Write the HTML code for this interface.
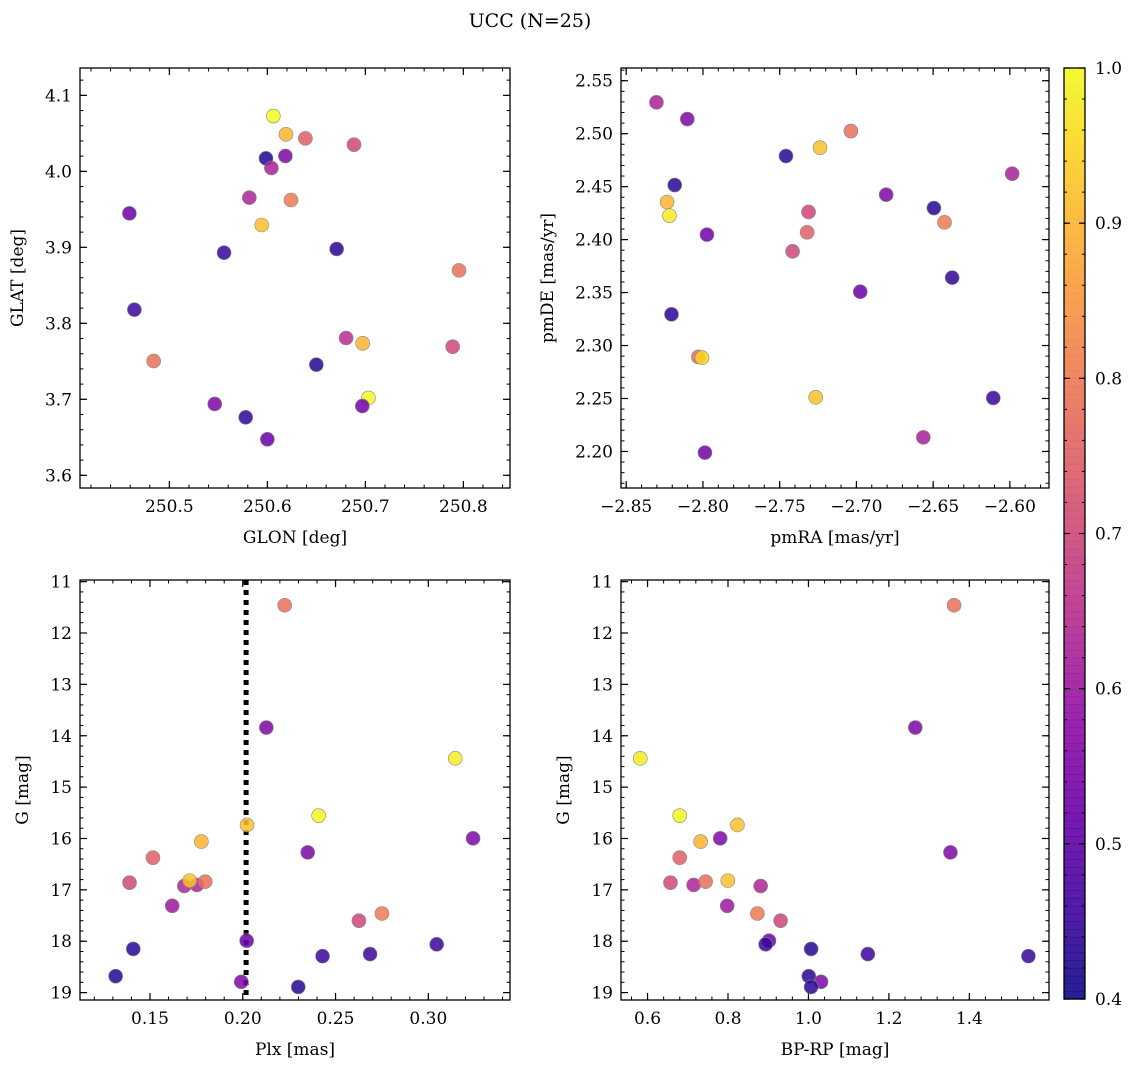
<!DOCTYPE html>
<html><head><meta charset="utf-8">
<style>
html,body{margin:0;padding:0;background:#fff;}
svg text{font-family:"DejaVu Serif","Liberation Serif",serif;fill:#000;}
</style></head>
<body>
<svg id="fig" width="1136" height="1067" viewBox="0 0 1136 1067" xmlns="http://www.w3.org/2000/svg">
<rect width="1136" height="1067" fill="#fff"/>
<text x="530" y="27" font-size="19" text-anchor="middle">UCC (N=25)</text>
</svg>
<script>
// Panel 1: GLON vs GLAT
const p1x=[250.6061,250.6190,250.6388,250.5986,250.6184,250.6041,250.6884,250.5816,250.6241,250.5942,250.4592,250.5558,250.6707,250.7956,250.4643,250.6803,250.6973,250.7891,250.4840,250.6500,250.7031,250.5463,250.6969,250.5779,250.6000];
const p1y=[4.0728,4.0487,4.0434,4.0171,4.0202,4.0044,4.0351,3.9654,3.9623,3.9294,3.9447,3.8930,3.8978,3.8697,3.8180,3.7807,3.7737,3.7693,3.7504,3.7456,3.7018,3.6939,3.6912,3.6763,3.6474];
const p1c=[1.0,0.9,0.75,0.42,0.55,0.62,0.7,0.63,0.8,0.92,0.52,0.45,0.43,0.78,0.45,0.65,0.9,0.7,0.78,0.43,1.0,0.55,0.53,0.44,0.52];
// Panel 2: pmRA vs pmDE
const p2x=[-2.8303,-2.8102,-2.7036,-2.7237,-2.7459,-2.8184,-2.5985,-2.6806,-2.8234,-2.6495,-2.8218,-2.7312,-2.6426,-2.7321,-2.7974,-2.7416,-2.6376,-2.6975,-2.8205,-2.8030,-2.8006,-2.6108,-2.7265,-2.6564,-2.7987];
const p2y=[2.5296,2.5138,2.5025,2.4868,2.4789,2.4515,2.4622,2.4424,2.4355,2.4298,2.4226,2.4261,2.4163,2.4069,2.4047,2.3889,2.3641,2.3508,2.3295,2.2892,2.2885,2.2505,2.2511,2.2133,2.1989];
const p2c=[0.62,0.55,0.78,0.92,0.43,0.43,0.62,0.55,0.9,0.43,0.98,0.7,0.8,0.75,0.53,0.7,0.44,0.52,0.43,0.77,0.95,0.45,0.92,0.62,0.53];
// Panel 3: Plx vs G
const p3x=[0.2226,0.2127,0.3145,0.2409,0.2023,0.3241,0.1777,0.2350,0.1516,0.1390,0.1685,0.1753,0.1798,0.1714,0.1620,0.2750,0.2626,0.2021,0.3045,0.1410,0.2686,0.2430,0.1315,0.1992,0.2299];
const p3y=[11.46,13.84,14.44,15.556,15.737,15.997,16.06,16.27,16.373,16.86,16.925,16.905,16.84,16.82,17.31,17.46,17.60,17.99,18.06,18.15,18.25,18.29,18.68,18.79,18.89];
const p3c=[0.78,0.55,0.98,1.0,0.92,0.55,0.9,0.55,0.75,0.7,0.63,0.63,0.78,0.92,0.6,0.8,0.7,0.52,0.45,0.43,0.45,0.45,0.43,0.55,0.43];
const plxLine=0.2018;
// Panel 4: BP-RP vs G
const p4x=[1.362,1.2656,0.5819,0.680,0.8235,0.732,0.7806,1.353,0.680,0.657,0.7146,0.7443,0.7996,0.8812,0.7979,0.873,0.9307,0.9019,0.8936,1.0066,1.1476,1.5468,1.0008,1.0313,1.0066];
const p4y=[11.46,13.84,14.44,15.556,15.737,16.06,15.997,16.27,16.373,16.86,16.905,16.84,16.82,16.925,17.31,17.46,17.60,17.99,18.06,18.15,18.25,18.29,18.68,18.79,18.89];
const p4c=[0.78,0.55,0.98,1.0,0.92,0.9,0.55,0.55,0.75,0.7,0.63,0.78,0.92,0.63,0.6,0.8,0.7,0.52,0.45,0.43,0.45,0.45,0.43,0.55,0.43];
// Tick labels
const t1x=[250.5,250.6,250.7,250.8], t1y=[3.6,3.7,3.8,3.9,4.0,4.1];
const t2x=[-2.85,-2.80,-2.75,-2.70,-2.65,-2.60], t2y=[2.20,2.25,2.30,2.35,2.40,2.45,2.50,2.55];
const t3x=[0.15,0.20,0.25,0.30], tG=[11,12,13,14,15,16,17,18,19];
const t4x=[0.6,0.8,1.0,1.2,1.4];
const tC=[0.4,0.5,0.6,0.7,0.8,0.9,1.0];
const cMin=0.4,cMax=1.0;

const NS="http://www.w3.org/2000/svg";
const svg=document.getElementById('fig');
const FS=17;
function mk(tag,attrs,parent){const e=document.createElementNS(NS,tag);for(const k in attrs)e.setAttribute(k,attrs[k]);(parent||svg).appendChild(e);return e;}
const stops=[[13,8,135],[65,4,157],[106,0,168],[143,13,164],[177,42,144],[204,71,120],[225,100,98],[242,132,75],[252,166,54],[252,206,37],[240,249,33]];
function plasma(t){t=Math.max(0,Math.min(1,t));const f=t*10,i=Math.min(9,Math.floor(f)),r=f-i;const a=stops[i],b=stops[i+1];return `rgb(${Math.round(a[0]+(b[0]-a[0])*r)},${Math.round(a[1]+(b[1]-a[1])*r)},${Math.round(a[2]+(b[2]-a[2])*r)})`;}
function cmap(v){return plasma((v-cMin)/(cMax-cMin));}
function fmt(v,d){return (v<0?'\u2212':'')+Math.abs(v).toFixed(d);}

function panel(o){
  const g=mk('g',{});
  
  
  const L=o.box[0],T=o.box[1],R=o.box[2],B=o.box[3];
  const sx=v=>L+(v-o.xr[0])/(o.xr[1]-o.xr[0])*(R-L);
  const sy=o.inv? (v=>T+(v-o.yr[0])/(o.yr[1]-o.yr[0])*(B-T)) : (v=>B-(v-o.yr[0])/(o.yr[1]-o.yr[0])*(B-T));
  for(let k=Math.ceil(o.xr[0]/o.xm-1e-9);k*o.xm<=o.xr[1]+1e-9;k++){const x=sx(k*o.xm);mk('line',{x1:x,x2:x,y1:B,y2:B-3.5,stroke:'#000','stroke-width':1},g);mk('line',{x1:x,x2:x,y1:T,y2:T+3.5,stroke:'#000','stroke-width':1},g);}
  const ylo=Math.min(o.yr[0],o.yr[1]),yhi=Math.max(o.yr[0],o.yr[1]);
  for(let k=Math.ceil(ylo/o.ym-1e-9);k*o.ym<=yhi+1e-9;k++){const y=sy(k*o.ym);mk('line',{x1:L,x2:L+3.5,y1:y,y2:y,stroke:'#000','stroke-width':1},g);mk('line',{x1:R,x2:R-3.5,y1:y,y2:y,stroke:'#000','stroke-width':1},g);}
  o.tx.forEach(v=>{const x=sx(v);mk('line',{x1:x,x2:x,y1:B,y2:B-7,stroke:'#000','stroke-width':1.2},g);mk('line',{x1:x,x2:x,y1:T,y2:T+7,stroke:'#000','stroke-width':1.2},g);
    const t=mk('text',{x:x,y:B+24,'font-size':FS,'text-anchor':'middle'},g);t.textContent=fmt(v,o.xd);
    
    });
  o.ty.forEach(v=>{const y=sy(v);mk('line',{x1:L,x2:L+7,y1:y,y2:y,stroke:'#000','stroke-width':1.2},g);mk('line',{x1:R,x2:R-7,y1:y,y2:y,stroke:'#000','stroke-width':1.2},g);
    const t=mk('text',{x:L-8,y:y+6,'font-size':FS,'text-anchor':'end'},g);t.textContent=fmt(v,o.yd);
    
    });
  if(o.vline!==undefined){const l=mk('line',{x1:sx(o.vline),x2:sx(o.vline),y1:T,y2:B,stroke:'#000','stroke-width':5,'stroke-dasharray':'5,5'},g);
    
    }
  for(let i=0;i<o.x.length;i++){const c=mk('circle',{cx:sx(o.x[i]),cy:sy(o.y[i]),r:7,fill:cmap(o.c[i]),'fill-opacity':0.85,stroke:'#888','stroke-width':0.6},g);
    
    }
  const fr=mk('rect',{x:L,y:T,width:R-L,height:B-T,fill:'none',stroke:'#000','stroke-width':1.3},g);
  
  
  const xl=mk('text',{x:(L+R)/2,y:B+55,'font-size':FS,'text-anchor':'middle'},g);xl.textContent=o.xl;
  
  
  const yx=o.ylx,yy=(T+B)/2;
  const yl=mk('text',{x:yx,y:yy,'font-size':FS,'text-anchor':'middle',transform:`rotate(-90 ${yx} ${yy})`},g);yl.textContent=o.yl;
  
  
}
panel({name:'glon-glat-panel',box:[80,68,510,488],xr:[250.4088,250.8476],yr:[3.5833,4.136],x:p1x,y:p1y,c:p1c,tx:t1x,ty:t1y,xm:0.02,ym:0.02,xd:1,yd:1,xl:'GLON [deg]',yl:'GLAT [deg]',ylx:23});
panel({name:'proper-motion-panel',box:[621,68,1049,488],xr:[-2.8534,-2.5745],yr:[2.1655,2.562],x:p2x,y:p2y,c:p2c,tx:t2x,ty:t2y,xm:0.01,ym:0.01,xd:2,yd:2,xl:'pmRA [mas/yr]',yl:'pmDE [mas/yr]',ylx:553});
panel({name:'plx-g-panel',box:[80,580,510,1000],xr:[0.1123,0.3440],yr:[10.968,19.144],inv:true,x:p3x,y:p3y,c:p3c,tx:t3x,ty:tG,xm:0.01,ym:0.2,xd:2,yd:0,xl:'Plx [mas]',yl:'G [mag]',ylx:28,vline:plxLine});
panel({name:'cmd-panel',box:[621,580,1049,1000],xr:[0.534,1.598],yr:[10.968,19.144],inv:true,x:p4x,y:p4y,c:p4c,tx:t4x,ty:tG,xm:0.04,ym:0.2,xd:1,yd:0,xl:'BP-RP [mag]',yl:'G [mag]',ylx:569});

// Colorbar
(function(){
  const g=mk('g',{});
  
  
  const L=1064,R=1085,T=68,B=999,n=120;
  for(let i=0;i<n;i++){const y0=B-(i+1)*(B-T)/n;mk('rect',{x:L,y:y0,width:R-L,height:(B-T)/n+0.6,fill:plasma((i+0.5)/n),'fill-opacity':0.9},g);}
  const sy=v=>B-(v-cMin)/(cMax-cMin)*(B-T);
  for(let k=20;k<=50;k++){const y=sy(k*0.02);mk('line',{x1:R,x2:R-3,y1:y,y2:y,stroke:'#000','stroke-width':1},g);mk('line',{x1:L,x2:L+3,y1:y,y2:y,stroke:'#000','stroke-width':1},g);}
  tC.forEach(v=>{const y=sy(v);mk('line',{x1:R,x2:R-6,y1:y,y2:y,stroke:'#000','stroke-width':1.2},g);mk('line',{x1:L,x2:L+6,y1:y,y2:y,stroke:'#000','stroke-width':1.2},g);
    const t=mk('text',{x:R+10,y:y+6,'font-size':FS},g);t.textContent=v.toFixed(1);
    
    });
  mk('rect',{x:L,y:T,width:R-L,height:B-T,fill:'none',stroke:'#000','stroke-width':1.3},g);
})();
</script>
</body></html>
